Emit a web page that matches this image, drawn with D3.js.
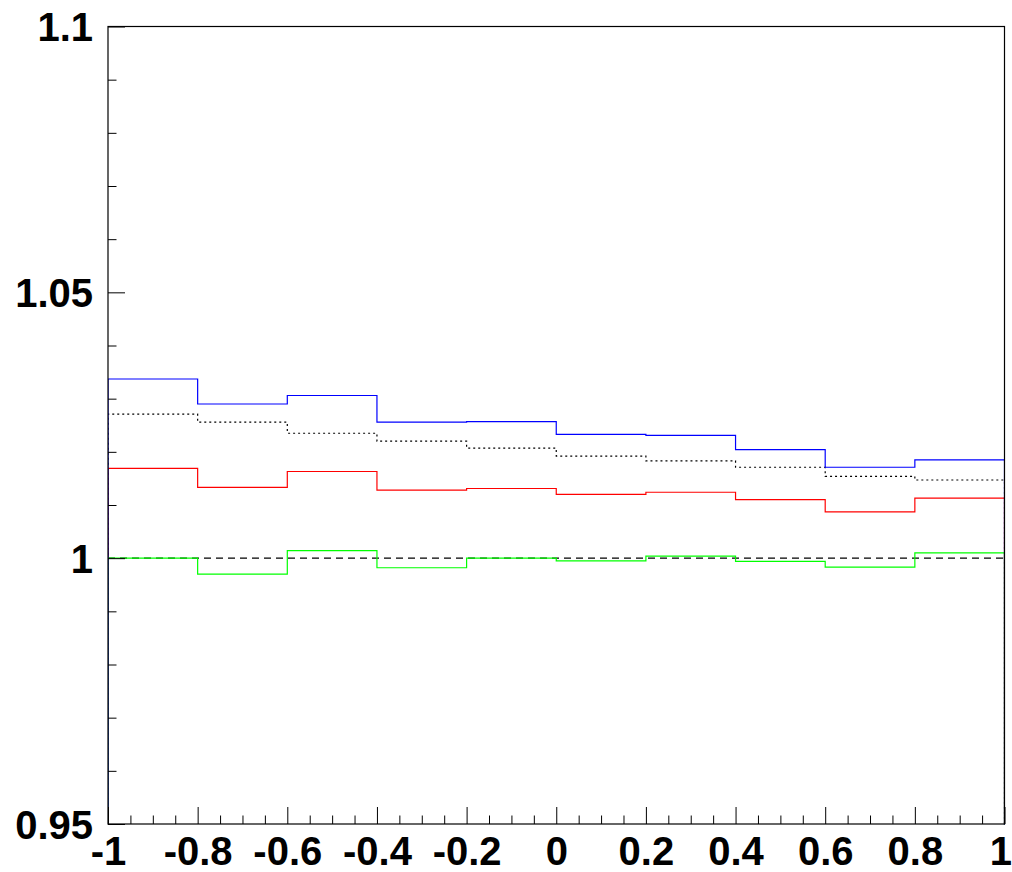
<!DOCTYPE html>
<html>
<head>
<meta charset="utf-8">
<script src="https://cdn.jsdelivr.net/npm/d3@7"></script>
<style>
  body { margin: 0; background: #fff; }
  .axis text { font-family: "Liberation Sans", Arial, sans-serif; font-weight: bold; font-size: 40px; fill: #000; }
  .axis path { display: none; }
  .axis line { stroke: #000; stroke-width: 1; }
</style>
</head>
<body>
<div id="chart"></div>
<script>
var width = 1012,
    height = 872,
    margin = { top: 26.5, right: 7.5, bottom: 48, left: 108 };

// bin edges
var binEdges = [-1, -0.8, -0.6, -0.4, -0.2, 0, 0.2, 0.4, 0.6, 0.8, 1];

// ratios per bin
var blueVals   = [1.0337, 1.0290, 1.0306, 1.0256, 1.0257, 1.0233, 1.0231, 1.0204, 1.0171, 1.0185];
var dottedVals = [1.0271, 1.0256, 1.0235, 1.0220, 1.0207, 1.0192, 1.0183, 1.0171, 1.0154, 1.0147];
var redVals    = [1.0169, 1.0133, 1.0163, 1.0128, 1.0131, 1.0120, 1.0124, 1.0110, 1.0087, 1.0113];
var greenVals  = [1.0000, 0.9970, 1.0014, 0.9982, 1.0000, 0.9995, 1.0004, 0.9994, 0.9983, 1.0010];

var refLine = 1;

var xMajor = [-1, -0.8, -0.6, -0.4, -0.2, 0, 0.2, 0.4, 0.6, 0.8, 1];
var yMajor = [0.95, 1, 1.05, 1.1];

var innerW = width - margin.left - margin.right,
    innerH = height - margin.top - margin.bottom;

var xScale = d3.scaleLinear().domain([-1, 1]).range([0, innerW]);
var yScale = d3.scaleLinear().domain([0.95, 1.1]).range([innerH, 0]);

// plain hyphen for negatives, like the original
var fmt = function(d){ return String(d); };

var svg = d3.select('#chart').append('svg')
    .attr('width', width)
    .attr('height', height);

var g = svg.append('g')
    .attr('transform', 'translate(' + [margin.left, margin.top] + ')');

g.append('clipPath').attr('id', 'clip')
  .append('rect')
    .attr('x', 0).attr('y', 0)
    .attr('width', innerW).attr('height', innerH + 1);

// histogram outline: up from the bottom, steps across, back down
function histPoints(vals){
    var pts = [[binEdges[0], 0]];
    vals.forEach(function(v, i){
        pts.push([binEdges[i], v]);
        pts.push([binEdges[i + 1], v]);
    });
    pts.push([binEdges[binEdges.length - 1], 0]);
    return pts;
}

var line = d3.line()
    .x(function(d){ return xScale(d[0]); })
    .y(function(d){ return yScale(d[1]); });

var plot = g.append('g').attr('clip-path', 'url(#clip)');

// dashed reference at 1
plot.append('path')
    .attr('d', line([[-1, refLine], [1, refLine]]))
    .attr('fill', 'none')
    .attr('stroke', '#000')
    .attr('stroke-width', 1.2)
    .attr('stroke-dasharray', '7,5');

var series = [
    { vals: dottedVals, color: '#000', dash: '2,3' },
    { vals: redVals,    color: '#ff0000', dash: null },
    { vals: greenVals,  color: '#00ff00', dash: null },
    { vals: blueVals,   color: '#0000ff', dash: null }
];

series.forEach(function(s){
    plot.append('path')
        .attr('d', line(histPoints(s.vals)))
        .attr('fill', 'none')
        .attr('stroke', s.color)
        .attr('stroke-width', 1.2)
        .attr('stroke-dasharray', s.dash);
});

// frame
g.append('rect')
    .attr('x', 0).attr('y', 0)
    .attr('width', innerW).attr('height', innerH)
    .attr('fill', 'none')
    .attr('stroke', '#000')
    .attr('stroke-width', 1.2);

// x axis: minor then major ticks, pointing inward
var xMinor = d3.range(-1, 1.0001, 0.05).filter(function(v){
    return Math.abs(Math.round(v * 5) - v * 5) > 1e-6;
});

g.append('g')
    .attr('class', 'axis')
    .attr('transform', 'translate(0,' + innerH + ')')
    .call(d3.axisBottom(xScale).tickValues(xMinor).tickSize(-8.5).tickFormat(''));

var xAx = g.append('g')
    .attr('class', 'axis')
    .attr('transform', 'translate(0,' + innerH + ')')
    .call(d3.axisBottom(xScale).tickValues(xMajor).tickSize(-17).tickFormat(fmt));

xAx.selectAll('text')
    .attr('y', 41)
    .attr('dy', 0);

// last label would run off the page; pin it to the right edge
xAx.selectAll('text').filter(function(d){ return d === 1; })
    .attr('text-anchor', 'end')
    .attr('x', 7);

// y axis
var yMinor = d3.range(0.95, 1.1001, 0.01).filter(function(v){
    return Math.abs(Math.round(v * 20) - v * 20) > 1e-6;
});

g.append('g')
    .attr('class', 'axis')
    .call(d3.axisLeft(yScale).tickValues(yMinor).tickSize(-8.5).tickFormat(''));

var yAx = g.append('g')
    .attr('class', 'axis')
    .call(d3.axisLeft(yScale).tickValues(yMajor).tickSize(-17).tickPadding(15).tickFormat(fmt));

yAx.selectAll('text')
    .attr('dy', '0.35em');
</script>
</body>
</html>
